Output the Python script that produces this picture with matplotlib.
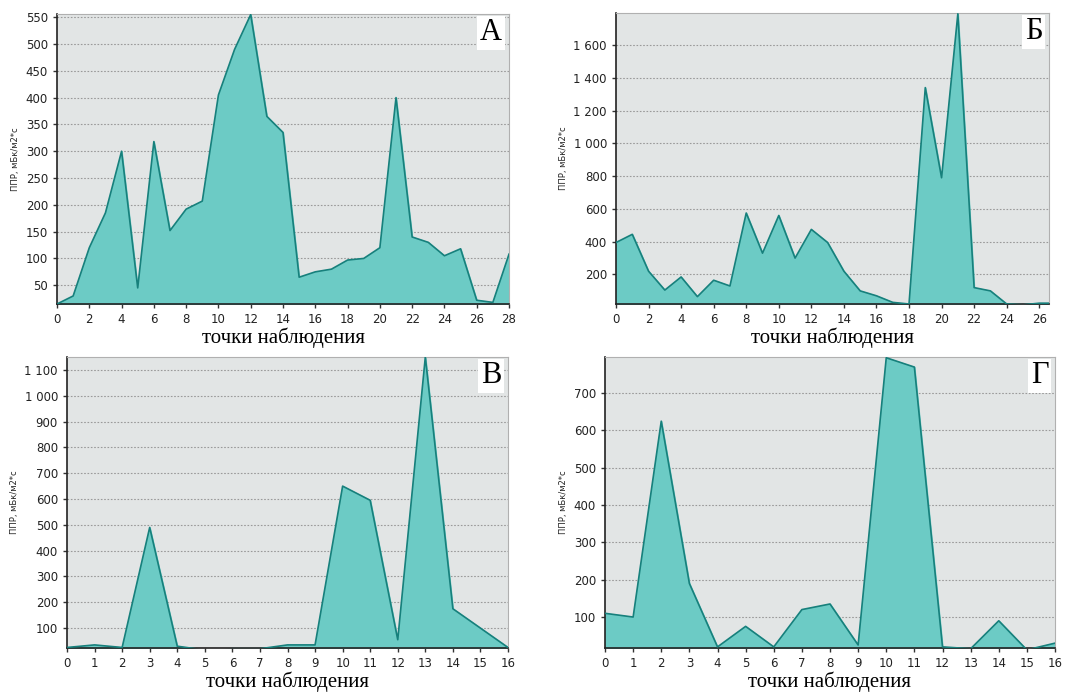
import numpy as np
import matplotlib
matplotlib.use("Agg")
import matplotlib.pyplot as plt
from matplotlib.ticker import FuncFormatter

# ---- data ----
x_a = list(range(0, 29))
y_a = [15, 30, 120, 185, 300, 45, 318, 152, 192, 207, 405, 490, 555, 365, 335,
       65, 75, 80, 97, 100, 120, 400, 140, 130, 105, 118, 22, 18, 108]

x_b = list(range(0, 28))
y_b = [395, 445, 220, 105, 185, 65, 165, 130, 575, 330, 560, 300, 475, 395, 220,
       100, 70, 30, 20, 1340, 790, 1790, 120, 100, 20, 15, 25, 25]

x_v = list(range(0, 17))
y_v = [25, 35, 25, 490, 30, 15, 20, 20, 35, 35, 650, 595, 55, 1150, 175, 100, 25]

x_g = list(range(0, 17))
y_g = [110, 100, 625, 190, 20, 75, 20, 120, 135, 25, 795, 770, 20, 15, 90, 12, 30]

panel_letters = ["А", "Б", "В", "Г"]
y_label = "ППР, мБк/м2*с"
x_label = "точки наблюдения"

# ---- layout (pixels in 1083x695 figure) ----
W, H = 1083, 695
boxes = [(57, 14, 509, 304), (616, 13, 1049, 304),
         (67, 357, 508, 648), (605, 357, 1055, 648)]
settings = [
    dict(x=x_a, y=y_a, xlim=(0, 28), ylim=(15, 556), xt=np.arange(0, 29, 2), yt=np.arange(50, 551, 50)),
    dict(x=x_b, y=y_b, xlim=(0, 26.6), ylim=(20, 1795), xt=np.arange(0, 27, 2), yt=np.arange(200, 1601, 200)),
    dict(x=x_v, y=y_v, xlim=(0, 16), ylim=(23, 1150), xt=np.arange(0, 17, 1), yt=np.arange(100, 1101, 100)),
    dict(x=x_g, y=y_g, xlim=(0, 16), ylim=(17, 797), xt=np.arange(0, 17, 1), yt=np.arange(100, 701, 100)),
]

fill_c = "#6ccbc5"
edge_c = "#17807c"
bg_c = "#e2e5e5"

def thousands(v, pos):
    return f"{int(v):,}".replace(",", " ")

fig = plt.figure(figsize=(W / 100, H / 100), dpi=100)

for (l, t, r, b), s, letter in zip(boxes, settings, panel_letters):
    ax = fig.add_axes([l / W, 1 - b / H, (r - l) / W, (b - t) / H])
    ax.set_facecolor(bg_c)
    ax.fill_between(s["x"], s["y"], s["ylim"][0] - 50, color=fill_c, zorder=2)
    ax.plot(s["x"], s["y"], color=edge_c, lw=1.2, zorder=3)
    ax.set_xlim(*s["xlim"])
    ax.set_ylim(*s["ylim"])
    ax.set_xticks(s["xt"])
    ax.set_yticks(s["yt"])
    ax.yaxis.set_major_formatter(FuncFormatter(thousands))
    ax.grid(axis="y", color="#9a9a9a", linestyle=(0, (1.5, 1.5)), lw=0.8, zorder=1)
    ax.tick_params(labelsize=8.5, labelcolor="#222222", length=3, width=1, color="#333333")
    for sp in ["top", "right"]:
        ax.spines[sp].set_color("#b0b0b0")
    for sp in ["left", "bottom"]:
        ax.spines[sp].set_color("#222222")
        ax.spines[sp].set_linewidth(1.2)
    ax.set_ylabel(y_label, fontsize=6, color="#222222", labelpad=4)
    ax.set_xlabel(x_label, family="Liberation Serif", fontsize=15, labelpad=1)
    ax.text(0.985, 0.985, letter, transform=ax.transAxes, ha="right", va="top",
            family="Liberation Serif", fontsize=22, zorder=5,
            bbox=dict(facecolor="white", edgecolor="none", pad=2))

fig.savefig("out.png", dpi=100)
